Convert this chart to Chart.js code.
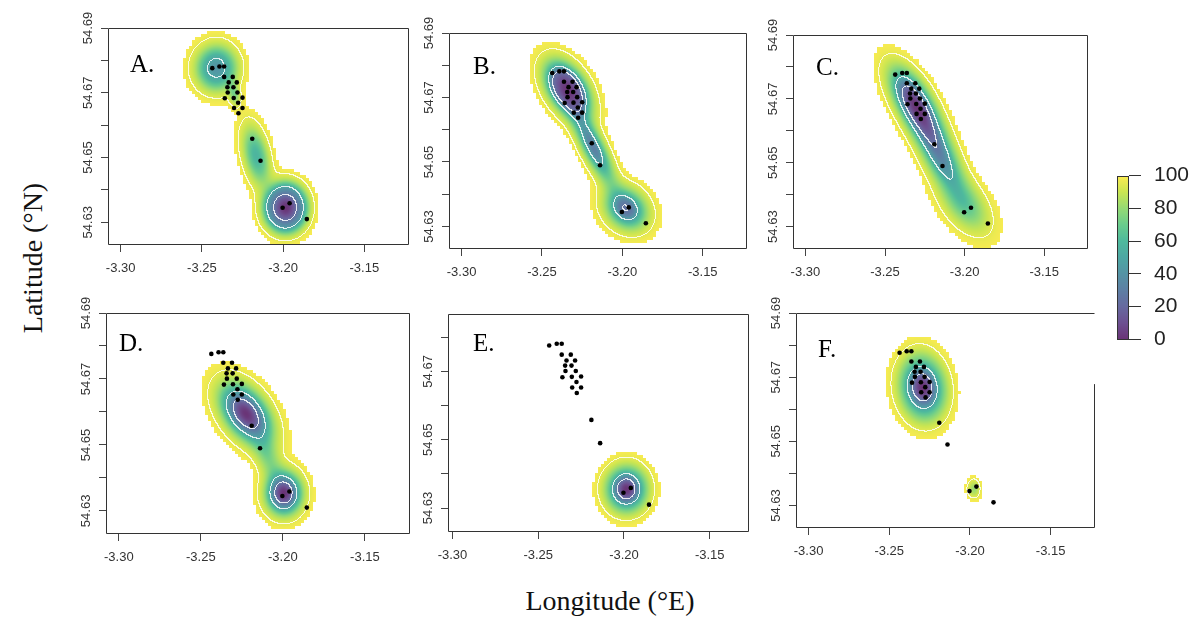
<!DOCTYPE html>
<html>
<head>
<meta charset="utf-8">
<script src="https://cdn.jsdelivr.net/npm/chart.js@4.4.1/dist/chart.umd.min.js"></script>
<style>
  body { margin: 0; background: #fff; }
  #wrap { position: relative; width: 1197px; height: 618px; overflow: hidden; background: #fff; }
  #wrap canvas { position: absolute; }
  .title { position: absolute; font-family: "Liberation Serif", "Times New Roman", serif; font-size: 28px; color: #111; white-space: nowrap; }
</style>
</head>
<body>
<div id="wrap">
  <div class="title" id="ylab">Latitude (°N)</div>
  <div class="title" id="xlab">Longitude (°E)</div>
</div>
<script>
// GPS fixes, same in every panel
const fixLon = [-3.2436, -3.2392, -3.2363, -3.2363, -3.2310, -3.2335, -3.2285, -3.2343,
  -3.2306, -3.2341, -3.2281, -3.2359, -3.2304, -3.2250, -3.2277, -3.2302, -3.2250,
  -3.2275, -3.2190, -3.2139, -3.2003, -3.1960, -3.1854];
const fixLat = [54.6776, 54.6781, 54.6781, 54.6749, 54.6749, 54.6732, 54.6732, 54.6717,
  54.6717, 54.6701, 54.6701, 54.6683, 54.6684, 54.6685, 54.6669, 54.6653, 54.6653,
  54.6637, 54.6558, 54.6490, 54.6345, 54.6359, 54.6310];

const xTicks = [-3.30, -3.25, -3.20, -3.15];
const xTickLabels = ['-3.30', '-3.25', '-3.20', '-3.15'];
const yTicks = [54.63, 54.64, 54.65, 54.66, 54.67, 54.68, 54.69];
const yTickLabels = ['54.63', '', '54.65', '', '54.67', '', '54.69'];

// utilisation distribution: contour levels and outer cut (percent volume)
const udLevels = [25, 50, 95];
const udCutoff = 98.5;
const legendTicks = [0, 20, 40, 60, 80, 100];

// kernel components per panel: [lon, lat, sdLon, sdLat, rho, weight]
const kernelsA = [
  [-3.1985, 54.6345, 0.0068, 0.0039, 0.0, 0.60],
  [-3.2165, 54.6505, 0.0055, 0.0060, -0.4, 0.14],
  [-3.2410, 54.6776, 0.0078, 0.0043, 0.0, 0.245],
  [-3.2300, 54.6695, 0.0025, 0.0025, -0.3, 0.015]
];
const kernelsB = [
  [-3.2340, 54.6725, 0.0085, 0.0052, -0.45, 0.50],
  [-3.2180, 54.6545, 0.0085, 0.0075, -0.8, 0.25],
  [-3.1975, 54.6355, 0.0085, 0.0042, -0.2, 0.25]
];
const kernelsC = [
  [-3.2335, 54.6708, 0.0090, 0.0060, -0.6, 0.32],
  [-3.2260, 54.6630, 0.0090, 0.0060, -0.6, 0.24],
  [-3.2150, 54.6515, 0.0090, 0.0068, -0.65, 0.27],
  [-3.2000, 54.6370, 0.0100, 0.0058, -0.5, 0.17]
];
const kernelsD = [
  [-3.2225, 54.6595, 0.0098, 0.0056, -0.45, 0.60],
  [-3.2090, 54.6460, 0.0060, 0.0050, -0.5, 0.07],
  [-3.1993, 54.6353, 0.0068, 0.0040, 0.0, 0.33]
];
const kernelsE = [
  [-3.1985, 54.6355, 0.0068, 0.0038, 0.0, 1.0]
];
const kernelsF = [
  [-3.2293, 54.6667, 0.0078, 0.0055, -0.1, 0.982],
  [-3.1975, 54.6352, 0.0025, 0.0018, 0.0, 0.018]
];

const panelLetters = ['A.', 'B.', 'C.', 'D.', 'E.', 'F.'];

const viridisStops = [[68,1,84],[72,36,117],[65,68,135],[53,95,141],[42,120,142],[33,145,140],
  [34,168,132],[68,191,112],[122,209,81],[189,223,38],[253,231,37]];

function cmap(t) {
  t = Math.max(0, Math.min(1, t));
  const f = t * 10, i = Math.min(9, Math.floor(f)), u = f - i;
  const a = viridisStops[i], b = viridisStops[i + 1];
  const al = 0.8;
  return [0, 1, 2].map(k => Math.round(al * (a[k] + (b[k] - a[k]) * u) + (1 - al) * 255));
}

function density(ks, lon, lat) {
  let s = 0;
  for (const [mx, my, sx, sy, r, w] of ks) {
    const dx = (lon - mx) / sx, dy = (lat - my) / sy;
    const q = (dx * dx - 2 * r * dx * dy + dy * dy) / (1 - r * r);
    s += w / (2 * Math.PI * sx * sy * Math.sqrt(1 - r * r)) * Math.exp(-q / 2);
  }
  return s;
}

// heat surface, read through the chart's own scales
const heatPlugin = {
  id: 'heat',
  beforeDatasetsDraw(chart, args, opts) {
    const ks = opts.kernels;
    if (!ks) return;
    const ca = chart.chartArea, xs = chart.scales.x, ys = chart.scales.y;
    const x0 = Math.round(ca.left), y0 = Math.round(ca.top);
    const w = Math.round(ca.right) - x0, h = Math.round(ca.bottom) - y0;
    const n = w * h;
    const d = new Float64Array(n);
    for (let j = 0; j < h; j++) {
      const lat = ys.getValueForPixel(y0 + j + 0.5);
      for (let i = 0; i < w; i++) {
        d[j * w + i] = density(ks, xs.getValueForPixel(x0 + i + 0.5), lat);
      }
    }
    const cellArea = Math.abs(xs.getValueForPixel(x0 + 1) - xs.getValueForPixel(x0)) *
      Math.abs(ys.getValueForPixel(y0 + 1) - ys.getValueForPixel(y0));
    const wsum = ks.reduce((s, k) => s + k[5], 0);
    const order = Array.from({ length: n }, (_, i) => i).sort((a, b) => d[b] - d[a]);
    const pct = new Float32Array(n);
    let c = 0;
    for (const idx of order) { c += d[idx]; pct[idx] = c * cellArea / wsum * 100; }

    const off = document.createElement('canvas');
    off.width = w; off.height = h;
    const octx = off.getContext('2d');
    const img = octx.createImageData(w, h);
    const px = img.data;
    const blk = 3;
    for (let j = 0; j < h; j++) {
      const bj = Math.min(h - 1, Math.floor(j / blk) * blk + 1);
      for (let i = 0; i < w; i++) {
        const bi = Math.min(w - 1, Math.floor(i / blk) * blk + 1);
        const p = j * w + i;
        if (pct[bj * w + bi] > udCutoff) continue;
        let col = cmap(pct[p] / 100);
        let line = false;
        for (const L of udLevels) {
          const inA = pct[p] <= L;
          if (i + 1 < w && (pct[p + 1] <= L) !== inA) line = true;
          if (j + 1 < h && (pct[p + w] <= L) !== inA) line = true;
        }
        if (line) col = col.map(v => Math.round(0.15 * v + 0.85 * 255));
        px[p * 4] = col[0]; px[p * 4 + 1] = col[1]; px[p * 4 + 2] = col[2]; px[p * 4 + 3] = 255;
      }
    }
    octx.putImageData(img, 0, 0);
    chart.ctx.drawImage(off, x0, y0);
  }
};

// frame, rotated y labels and panel letter
const framePlugin = {
  id: 'frame',
  afterDraw(chart, args, opts) {
    const ctx = chart.ctx, ca = chart.chartArea, ys = chart.scales.y;
    ctx.save();
    ctx.strokeStyle = '#333';
    ctx.lineWidth = 1;
    const l = Math.round(ca.left) + 0.5, t = Math.round(ca.top) + 0.5;
    const r = Math.round(ca.right) - 0.5, b = Math.round(ca.bottom) - 0.5;
    ctx.beginPath();
    ctx.moveTo(r, t + (b - t) * (opts.rightStart || 0));
    ctx.lineTo(r, b); ctx.lineTo(l, b); ctx.lineTo(l, t); ctx.lineTo(r, t);
    ctx.stroke();
    if (opts.yLabels) {
      ctx.fillStyle = '#333';
      ctx.font = '13px "Liberation Sans", Arial, sans-serif';
      ctx.textAlign = 'center';
      ctx.textBaseline = 'middle';
      yTicks.forEach((v, i) => {
        if (!yTickLabels[i] || v < ys.min - 1e-9 || v > ys.max + 1e-9) return;
        ctx.save();
        ctx.translate(ca.left - 20, ys.getPixelForValue(v));
        ctx.rotate(-Math.PI / 2);
        ctx.fillText(yTickLabels[i], 0, 0);
        ctx.restore();
      });
    }
    if (opts.letter) {
      ctx.fillStyle = '#000';
      ctx.font = '25px "Liberation Serif", "Times New Roman", serif';
      ctx.textAlign = 'left';
      ctx.textBaseline = 'alphabetic';
      ctx.fillText(opts.letter, ca.left + opts.letterAt[0], ca.top + opts.letterAt[1]);
    }
    ctx.restore();
  }
};

const panels = [
  { box: [108, 28, 409, 245], x: [-3.3078, -3.1225], y: [54.623, 54.690], k: kernelsA, at: [22, 44] },
  { box: [449, 33, 747, 249], x: [-3.3078, -3.1225], y: [54.623, 54.690], k: kernelsB, at: [24, 41] },
  { box: [793, 35, 1088, 249], x: [-3.3078, -3.1225], y: [54.623, 54.690], k: kernelsC, at: [23, 40] },
  { box: [106, 313, 410, 534], x: [-3.3078, -3.1225], y: [54.623, 54.690], k: kernelsD, at: [13, 38] },
  { box: [448, 314, 749, 532], x: [-3.3026, -3.1271], y: [54.623, 54.6868], k: kernelsE, at: [25, 37] },
  { box: [796, 313, 1095, 528], x: [-3.3078, -3.1225], y: [54.623, 54.690], k: kernelsF, at: [22, 44], rightStart: 0.33 }
];

const wrap = document.getElementById('wrap');
const fixPoints = fixLon.map((x, i) => ({ x: x, y: fixLat[i] }));
const tickFont = { family: '"Liberation Sans", Arial, sans-serif', size: 13 };

panels.forEach((p, n) => {
  const [L, T, R, B] = p.box;
  const cv = document.createElement('canvas');
  const cw = R - L + 60, chh = B - T + 60;
  cv.width = cw; cv.height = chh;
  cv.style.left = (L - 45) + 'px'; cv.style.top = (T - 20) + 'px';
  cv.style.width = cw + 'px'; cv.style.height = chh + 'px';
  wrap.appendChild(cv);
  new Chart(cv, {
    type: 'scatter',
    data: { datasets: [{ data: fixPoints, pointRadius: 2.3, backgroundColor: '#000', borderWidth: 0 }] },
    options: {
      responsive: false, animation: false, devicePixelRatio: 1, events: [],
      layout: { padding: { left: 5, top: 20, right: 15, bottom: 0 } },
      plugins: {
        legend: { display: false }, tooltip: { enabled: false },
        heat: { kernels: p.k },
        frame: { yLabels: true, letter: panelLetters[n], letterAt: p.at, rightStart: p.rightStart || 0 }
      },
      scales: {
        x: {
          type: 'linear', min: p.x[0], max: p.x[1],
          afterBuildTicks: s => { s.ticks = xTicks.map(v => ({ value: v })); },
          afterFit: s => { s.height = 40; },
          ticks: { callback: (v, i) => xTickLabels[i], font: tickFont, color: '#333', padding: 9, maxRotation: 0, autoSkip: false },
          grid: { drawOnChartArea: false, drawTicks: true, tickLength: 7, color: '#444', tickColor: '#444' },
          border: { display: false }
        },
        y: {
          type: 'linear', min: p.y[0], max: p.y[1],
          afterBuildTicks: s => { s.ticks = yTicks.filter(v => v >= p.y[0] && v <= p.y[1] + 1e-9).map(v => ({ value: v })); },
          afterFit: s => { s.width = 40; },
          ticks: { display: false },
          grid: { drawOnChartArea: false, drawTicks: true, tickLength: 7, color: '#444', tickColor: '#444' },
          border: { display: false }
        }
      }
    },
    plugins: [heatPlugin, framePlugin]
  });
});

// colour key
const legendPlugin = {
  id: 'udkey',
  beforeDatasetsDraw(chart) {
    const ctx = chart.ctx, ca = chart.chartArea, ys = chart.scales.y;
    for (let py = Math.round(ca.top); py < Math.round(ca.bottom); py++) {
      const c = cmap(ys.getValueForPixel(py + 0.5) / 100);
      ctx.fillStyle = 'rgb(' + c.join(',') + ')';
      ctx.fillRect(ca.left, py, ca.right - ca.left, 1);
    }
    ctx.strokeStyle = '#333';
    ctx.lineWidth = 1;
    ctx.strokeRect(Math.round(ca.left) + 0.5, Math.round(ca.top) + 0.5,
      Math.round(ca.right - ca.left) - 1, Math.round(ca.bottom - ca.top) - 1);
  }
};
const kc = document.createElement('canvas');
kc.width = 97; kc.height = 215;
kc.style.left = '1100px'; kc.style.top = '150px';
kc.style.width = '97px'; kc.style.height = '215px';
wrap.appendChild(kc);
new Chart(kc, {
  type: 'scatter',
  data: { datasets: [] },
  options: {
    responsive: false, animation: false, devicePixelRatio: 1, events: [],
    layout: { padding: { left: 17, top: 12, right: 0, bottom: 14 } },
    plugins: { legend: { display: false }, tooltip: { enabled: false } },
    scales: {
      x: { display: false, min: 0, max: 1 },
      y: {
        position: 'right', min: 0, max: 100,
        afterBuildTicks: s => { s.ticks = legendTicks.map(v => ({ value: v })); },
        afterFit: s => { s.width = 68; },
        ticks: { font: { family: '"Liberation Sans", Arial, sans-serif', size: 21 }, color: '#222', padding: 13 },
        grid: { drawOnChartArea: false, drawTicks: true, tickLength: 12, color: '#333', tickColor: '#333' },
        border: { display: false }
      }
    }
  },
  plugins: [legendPlugin]
});

// axis titles
const ylab = document.getElementById('ylab');
ylab.style.left = '33px'; ylab.style.top = '258px';
ylab.style.transform = 'translate(-50%, -50%) rotate(-90deg)';
const xlab = document.getElementById('xlab');
xlab.style.left = '610px'; xlab.style.top = '601px';
xlab.style.transform = 'translate(-50%, -50%)';
</script>
</body>
</html>
